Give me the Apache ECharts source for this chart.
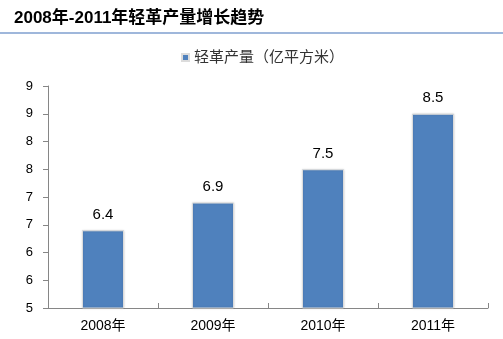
<!DOCTYPE html>
<html>
<head>
<meta charset="utf-8">
<script src="https://cdn.jsdelivr.net/npm/echarts@6/dist/echarts.min.js"></script>
<style>
  html, body { margin: 0; padding: 0; background: #fff; }
  #chart { width: 503px; height: 339px; }
</style>
</head>
<body>
<div id="chart"></div>
<script>
// Light leather output by year (hundred million square metres)
var categories = ['2008年', '2009年', '2010年', '2011年'];
var outputValues = [6.4, 6.9, 7.5, 8.5];
var seriesName = '轻革产量（亿平方米）';
var chartTitle = '2008年-2011年轻革产量增长趋势';

var FONT = '"Liberation Sans", Arial, "Noto Sans CJK SC", sans-serif';

var chart = echarts.init(document.getElementById('chart'), null, { renderer: 'canvas' });

chart.setOption({
  animation: false,
  backgroundColor: '#ffffff',
  title: {
    text: chartTitle,
    left: 9,
    top: 5,
    textStyle: { fontFamily: FONT, fontSize: 17, fontWeight: 'bold', color: '#000' }
  },
  graphic: [{
    type: 'line',
    shape: { x1: 0, y1: 33, x2: 503, y2: 33 },
    style: { stroke: '#7f9fcf', lineWidth: 1.5 }
  }],
  legend: {
    data: [seriesName],
    top: 45,
    left: 176,
    itemWidth: 7,
    itemHeight: 7,
    itemGap: 4,
    icon: 'rect',
    textStyle: { fontFamily: FONT, fontSize: 15, color: '#333' }
  },
  grid: { left: 48, right: 15, top: 86, bottom: 31 },
  xAxis: {
    type: 'category',
    data: categories,
    axisLine: { lineStyle: { color: '#868686', width: 1 } },
    axisTick: { show: true, inside: true, length: 5, lineStyle: { color: '#868686' } },
    axisLabel: { fontFamily: FONT, fontSize: 14, color: '#000', margin: 11 }
  },
  yAxis: {
    type: 'value',
    min: 5,
    max: 9,
    interval: 0.5,
    splitLine: { show: false },
    axisLine: { show: true, lineStyle: { color: '#868686', width: 1 } },
    axisTick: { show: true, length: 5, lineStyle: { color: '#868686' } },
    axisLabel: {
      fontFamily: FONT, fontSize: 13, color: '#000', margin: 15,
      formatter: function (v) { return Math.round(v).toString(); }
    }
  },
  series: [{
    name: seriesName,
    type: 'bar',
    data: outputValues,
    barWidth: 42,
    itemStyle: {
      color: '#4f81bd',
      borderColor: '#dcdcdc',
      borderWidth: 1,
      shadowColor: 'rgba(0,0,0,0.15)',
      shadowBlur: 2
    },
    label: {
      show: true,
      position: 'top',
      distance: 8,
      fontFamily: FONT,
      fontSize: 15,
      color: '#000',
      formatter: function (p) { return p.value.toFixed(1); }
    }
  }]
});
</script>
</body>
</html>
